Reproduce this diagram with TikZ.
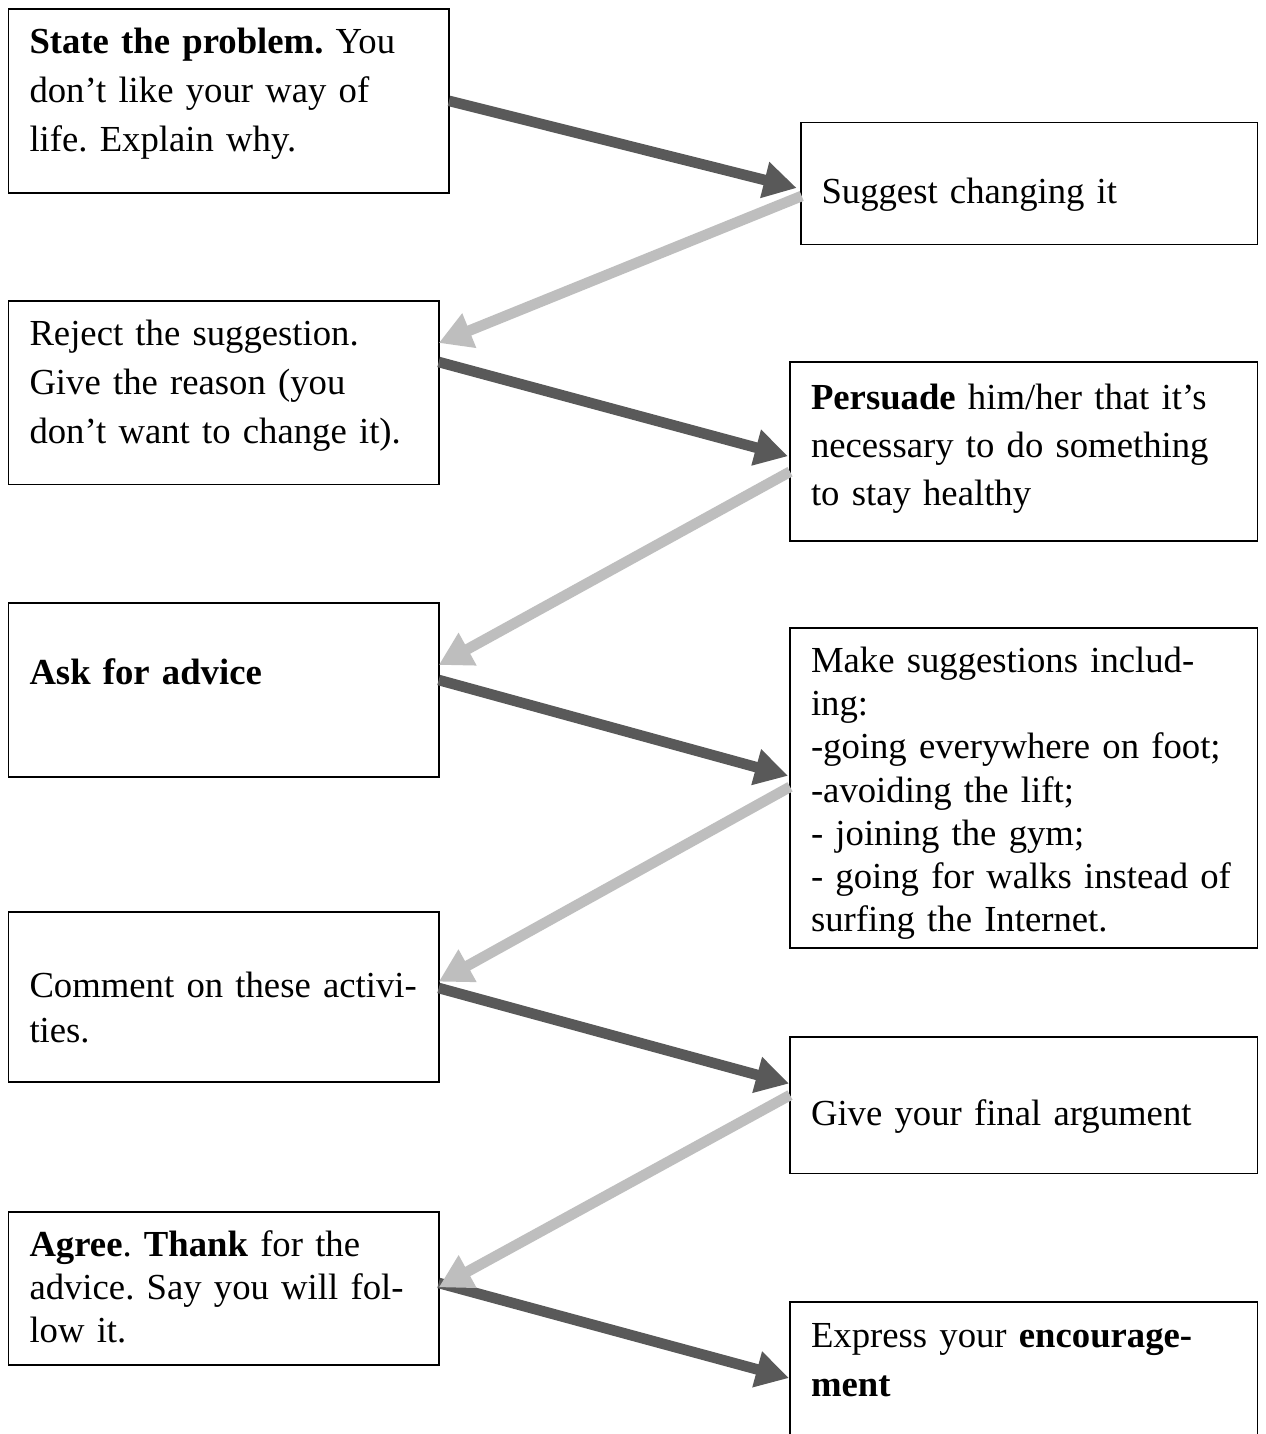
\documentclass[tikz,border=0pt]{standalone}
\usepackage{fontspec}
\setmainfont{Liberation Serif}
\frenchspacing
\usetikzlibrary{arrows.meta,fit}
\definecolor{darkarrow}{RGB}{89,89,89}
\definecolor{lightarrow}{RGB}{190,190,190}
\begin{document}
\frenchspacing
\begin{tikzpicture}[x=0.5pt,y=-0.5pt,
  box/.style={draw=black,line width=0.8pt,inner sep=0pt,outer sep=0pt},
  txt/.style={anchor=base west,inner sep=0pt,outer sep=0pt,text width=225pt,align=left,
              font=\fontsize{18.35pt}{#1}\selectfont\frenchspacing},
  darr/.style={draw=darkarrow,line width=5.3pt,-{Triangle[length=16.5pt,width=17.5pt]}},
  larr/.style={draw=lightarrow,line width=5.3pt,-{Triangle[length=16.5pt,width=17.5pt]}}]
\fill[white] (0,0) rectangle (1265,1434);
\useasboundingbox (0,0) rectangle (1265,1434);

% boxes
\node[box,fit={(8.5,9) (449,192.7)}] (b1) {};
\node[box,fit={(800.7,122.7) (1257.5,244.3)}] (b2) {};
\node[box,fit={(8.5,300.7) (438.7,484.3)}] (b3) {};
\node[box,fit={(790,361.7) (1257.5,540.7)}] (b4) {};
\node[box,fit={(8.5,602.7) (438.7,776.7)}] (b5) {};
\node[box,fit={(790,628) (1257.5,947.7)}] (b6) {};
\node[box,fit={(8.5,911.7) (438.7,1081.7)}] (b7) {};
\node[box,fit={(790,1036.7) (1257.5,1173.5)}] (b8) {};
\node[box,fit={(8.5,1211.7) (438.7,1365)}] (b9) {};
\node[box,fit={(790,1302) (1257.5,1445)}] (b10) {};

% texts
\node[txt=24.6pt] (t1) at (29.5,53.3) {\textbf{State the problem.} You\\don’t like your way of\\life. Explain why.};
\node[txt=24.6pt] (t2) at (821.5,203) {Suggest changing it};
\node[txt=24.6pt] (t3) at (29.5,345) {Reject the suggestion.\\Give the reason (you\\don’t want to change it).};
\node[txt=24pt] (t4) at (811,409) {\textbf{Persuade} him/her that it’s\\necessary to do something\\to stay healthy};
\node[txt=24.6pt] (t5) at (29.5,684) {\textbf{Ask for advice}};
\node[txt=21.6pt] (t6) at (811,672.5) {Make suggestions includ-\\ing:\\-going everywhere on foot;\\-avoiding the lift;\\- joining the gym;\\- going for walks instead of\\surfing the Internet.};
\node[txt=22.85pt] (t7) at (29.5,997) {Comment on these activi-\\ties.};
\node[txt=24.6pt] (t8) at (811,1125) {Give your final argument};
\node[txt=21.5pt] (t9) at (29.5,1256) {\textbf{Agree}. \textbf{Thank} for the\\advice. Say you will fol-\\low it.};
\node[txt=24.8pt] (t10) at (811,1347) {Express your \textbf{encourage-}\\\textbf{ment}};

% dark arrows (left to right)
\draw[darr] (b1.east) -- ([shift={(-4,4.5)}]b2.west);
\draw[darr] ([shift={(0,-30.5)}]b3.east) -- ([shift={(-2,5)}]b4.west);
\draw[darr] ([shift={(0,-9.7)}]b5.east) -- ([shift={(-2,-12)}]b6.west);
\draw[darr] ([shift={(0,-8.7)}]b7.east) -- ([shift={(-1,-21.5)}]b8.west);
\draw[darr] ([shift={(0,-5.4)}]b9.east) -- ([shift={(-1,76)}]b10.north west);

% light arrows (right to left)
\draw[larr] ([shift={(1,12.5)}]b2.west) -- ([shift={(0,-49.5)}]b3.east);
\draw[larr] ([shift={(0,20.5)}]b4.west) -- ([shift={(0,-24.7)}]b5.east);
\draw[larr] ([shift={(0,-1)}]b6.west) -- ([shift={(0,-15)}]b7.east);
\draw[larr] ([shift={(0,-10)}]b8.west) -- ([shift={(0,-1)}]b9.east);
\end{tikzpicture}
\end{document}
